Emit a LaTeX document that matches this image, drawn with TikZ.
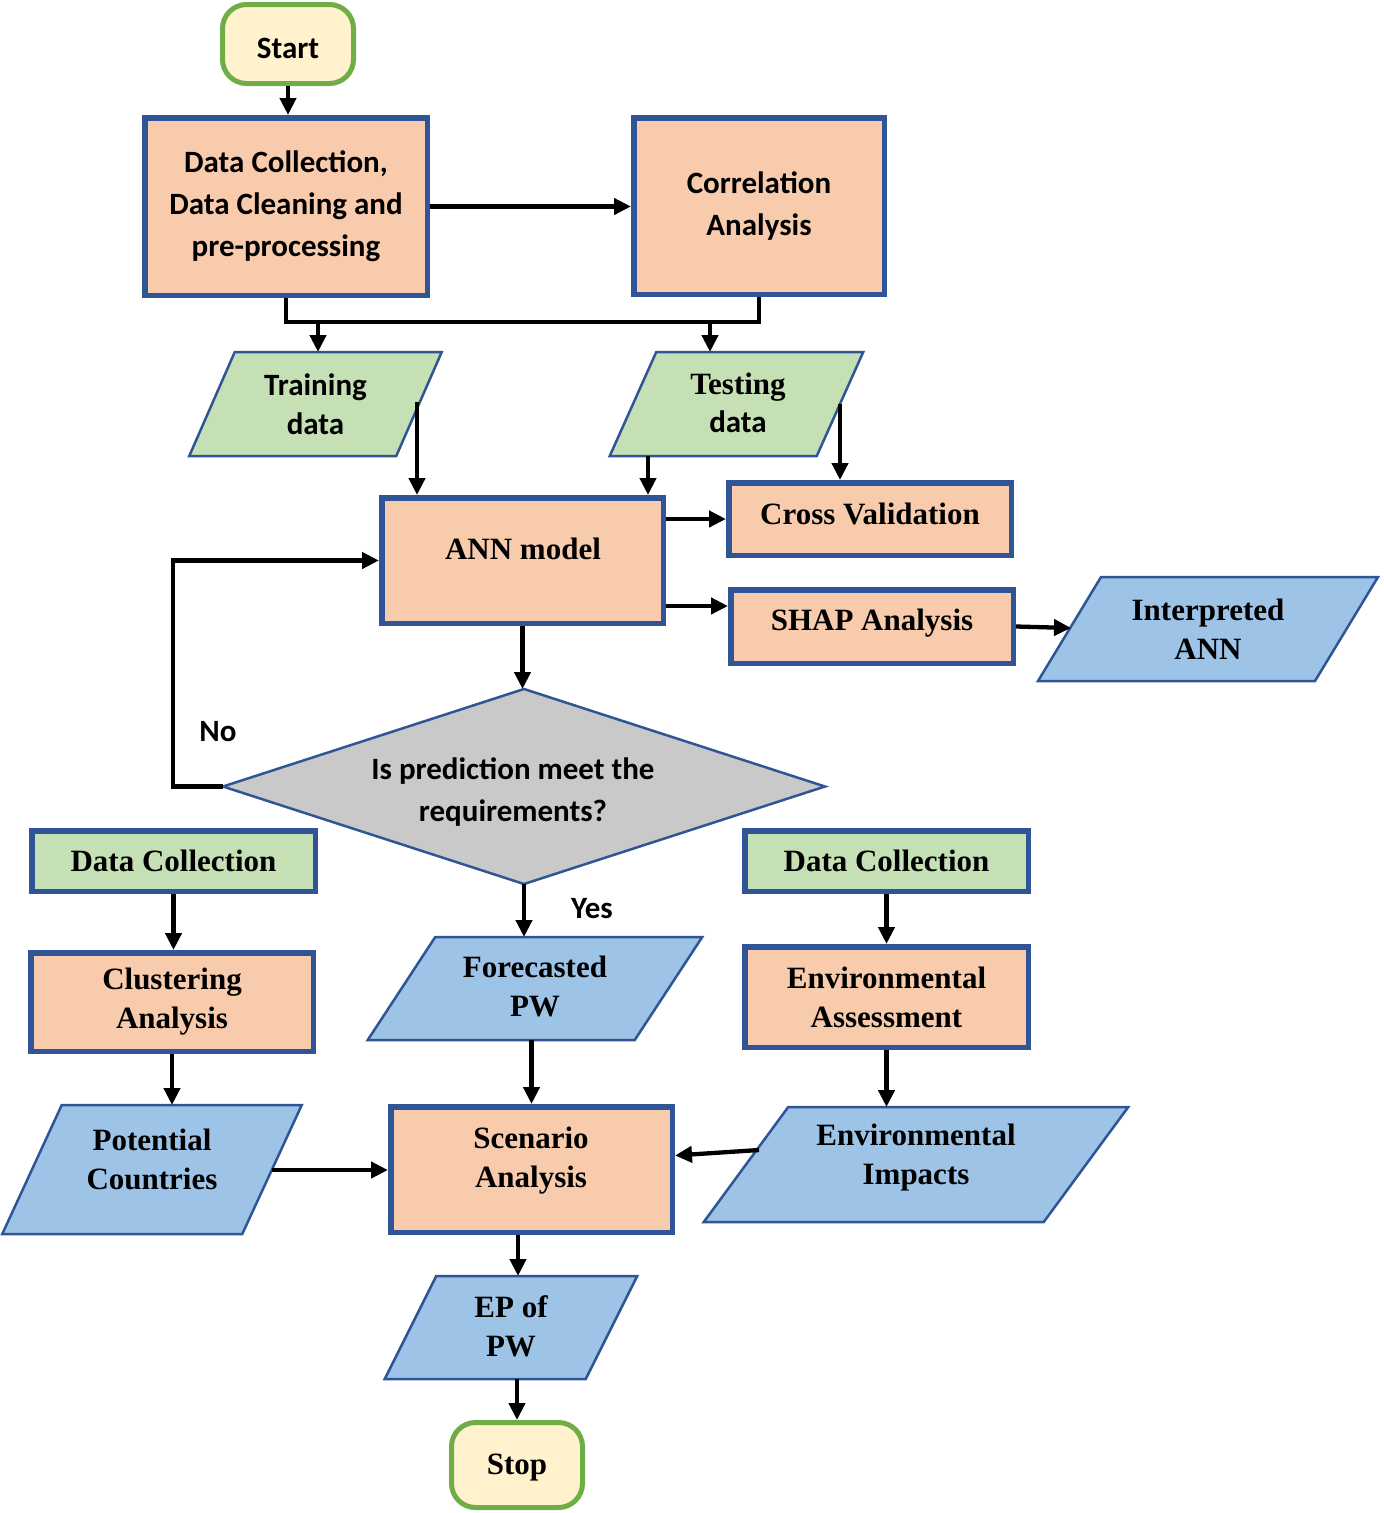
\documentclass[tikz,border=0pt]{standalone}
\usepackage{fontspec}
\setmainfont{Liberation Serif}
\newfontfamily\calfont{Carlito}
\newfontfamily\timesfont{Liberation Serif}
\usetikzlibrary{calc,arrows.meta,shapes.geometric}
\definecolor{bord}{HTML}{2F5597}
\definecolor{orng}{HTML}{F8CBAD}
\definecolor{lgrn}{HTML}{C5E0B4}
\definecolor{lblu}{HTML}{9DC3E6}
\definecolor{gry}{HTML}{C9C9C9}
\definecolor{termfill}{HTML}{FFF2CC}
\definecolor{termbord}{HTML}{70AD47}
\newcommand\serifb{\timesfont\fontsize{31}{39}\selectfont\bfseries}
\newcommand\sansb{\calfont\fontsize{31}{42}\selectfont\bfseries}
\newcommand\pgram[9]{% name cx cy side height slant fill text text-shift
  \path[pline, fill=#7] ({#2-#4/2+#6/2},{#3-#5/2}) -- ({#2+#4/2+#6/2},{#3-#5/2}) -- ({#2+#4/2-#6/2},{#3+#5/2}) -- ({#2-#4/2-#6/2},{#3+#5/2}) -- cycle;
  \node[frame, minimum width={#4+#6}, minimum height={#5}] (#1) at (#2,#3) {};
  \node[txt, yshift=#9] (#1-t) at (#2,#3) {#8};
}
\begin{document}
\begin{tikzpicture}[x=1pt,y=-1pt,
  box/.style={draw=bord, line width=5.5pt, fill=orng, align=center, inner sep=0pt, font=\serifb},
  gbox/.style={box, fill=lgrn},
  term/.style={draw=termbord, line width=5pt, fill=termfill, rounded corners=24pt, inner sep=0pt},
  pline/.style={draw=bord, line width=2.5pt, line join=miter},
  frame/.style={draw=none, inner sep=0pt, outer sep=0pt},
  txt/.style={align=center, inner sep=0pt, font=\serifb},
  stxt/.style={align=center, inner sep=0pt, font=\sansb},
  arr/.style={line width=4.3pt, -{Triangle[length=17pt,width=16pt]}},
  ln/.style={line width=4.3pt}]
\useasboundingbox (0,0) rectangle (1384,1513);

% terminals
\node[term, minimum width=131pt, minimum height=79pt] (start) at (288,44) {};
\node[stxt] (start-t) at (288,48) {Start};
\node[term, minimum width=131pt, minimum height=85pt] (stop) at (517,1465) {};
\node[txt] (stop-t) at (517,1468) {Stop};

% process boxes
\node[box, font=\sansb, minimum width=282.5pt, minimum height=177.5pt] (dc1) at (286,206.5) {Data Collection,\\Data Cleaning and\\pre-processing};
\node[box, font=\sansb, minimum width=250.5pt, minimum height=176.5pt] (corr) at (759,206) {Correlation\\Analysis};
\node[box, minimum width=281.5pt, minimum height=125.5pt] (ann) at (522.5,560.5) {};
\node[txt] (ann-t) at (523,549) {ANN model};
\node[box, minimum width=282.5pt, minimum height=72.5pt] (cv) at (870,519) {};
\node[txt] (cv-t) at (870,514) {Cross Validation};
\node[box, minimum width=282.5pt, minimum height=73.5pt] (shap) at (872,626.5) {};
\node[txt] (shap-t) at (872,623) {SHAP Analysis};
\node[gbox, minimum width=283.5pt, minimum height=60.5pt] (dcl) at (173.5,861) {Data Collection};
\node[box, minimum width=282.5pt, minimum height=98.5pt] (clust) at (172,1002) {Clustering\\Analysis};
\node[box, minimum width=281.5pt, minimum height=125.5pt] (scen) at (531.5,1169.5) {};
\node[txt] (scen-t) at (531,1161) {Scenario\\Analysis};
\node[gbox, minimum width=283.5pt, minimum height=60.5pt] (dcr) at (886.5,861) {Data Collection};
\node[box, minimum width=283.5pt, minimum height=100.5pt] (enva) at (886.5,997) {Environmental\\Assessment};

% data (parallelograms)
\pgram{train}{315.5}{404}{207}{104}{45.5}{lgrn}{{\sansb Training}\\{\sansb data}}{0pt}
\pgram{test}{736.5}{404}{207}{104}{46.5}{lgrn}{}{0pt}
\node[txt] (test-t1) at (738,387) {Testing};
\node[stxt] (test-t2) at (738,422) {data};
\pgram{interp}{1208}{629}{277}{104}{63}{lblu}{Interpreted\\ANN}{0pt}
\pgram{fore}{535}{988.5}{267}{103}{67.5}{lblu}{Forecasted\\PW}{2pt}
\pgram{pot}{152}{1169.5}{240}{129}{59.5}{lblu}{Potential\\Countries}{10pt}
\pgram{envi}{916}{1164.5}{340}{115}{84.5}{lblu}{Environmental\\Impacts}{7pt}
\pgram{ep}{511}{1327.5}{201}{103}{51.5}{lblu}{EP of\\PW}{1.5pt}

% decision
\node[diamond, draw=bord, line width=2.5pt, fill=gry, minimum width=602pt, minimum height=195pt, inner sep=0pt, outer sep=0pt] (dia) at (524,786.5) {};
\node[stxt] (dia-t) at (513,792) {Is prediction meet the\\requirements?};
\node[stxt] (no) at (218,732) {No};
\node[stxt] (yes) at (592,909) {Yes};

% helper coordinates
\coordinate (jrow) at (0,322);
\coordinate (trainin) at (318,0);
\coordinate (testin) at (710,0);
\coordinate (trainout) at (417,402);
\coordinate (testdown) at (648,0);
\coordinate (testout) at (840,404);
\coordinate (annshap) at (0,606);
\coordinate (interpL) at (1071,628);
\coordinate (loopx) at (173,561);
\coordinate (potR) at (272,1170);
\coordinate (envL) at (759,1150);
\coordinate (epx) at (518,0);

% connectors
\draw[arr] (start.south) -- (start.south |- dc1.north);
\draw[arr] (dc1.east) -- (dc1.east -| corr.west);
\draw[ln] (dc1.south) -- (dc1.south |- jrow) -| (corr.south);
\draw[arr] (trainin |- jrow) -- (trainin |- train.north);
\draw[arr] (testin |- jrow) -- (testin |- test.north);
\draw[arr] (trainout) -- (trainout |- ann.north);
\draw[arr] (testdown |- test.south) -- (testdown |- ann.north);
\draw[arr] (testout) -- (testout |- cv.north);
\draw[arr] (ann.east |- cv.west) -- (cv.west);
\draw[arr] (ann.east |- annshap) -- (shap.west |- annshap);
\draw[arr] (shap.east) -- (interpL);
\draw[arr] (ann.south) -- (ann.south |- dia.north);
\draw[arr] (dia.west) -| (loopx) |- (ann.west);
\draw[arr] (dia.south) -- (dia.south |- fore.north);
\draw[arr] (scen.north |- fore.south) -- (scen.north);
\draw[arr] (dcl.south) -- (dcl.south |- clust.north);
\draw[arr] (clust.south) -- (clust.south |- pot.north);
\draw[arr] (potR) -- (potR -| scen.west);
\draw[arr] (dcr.south) -- (dcr.south |- enva.north);
\draw[arr] (enva.south) -- (enva.south |- envi.north);
\draw[arr] (envL) -- ($(scen.east)+(0,-14)$);
\draw[arr] (epx |- scen.south) -- (epx |- ep.north);
\draw[arr] (stop.north |- ep.south) -- (stop.north);
\end{tikzpicture}
\end{document}
